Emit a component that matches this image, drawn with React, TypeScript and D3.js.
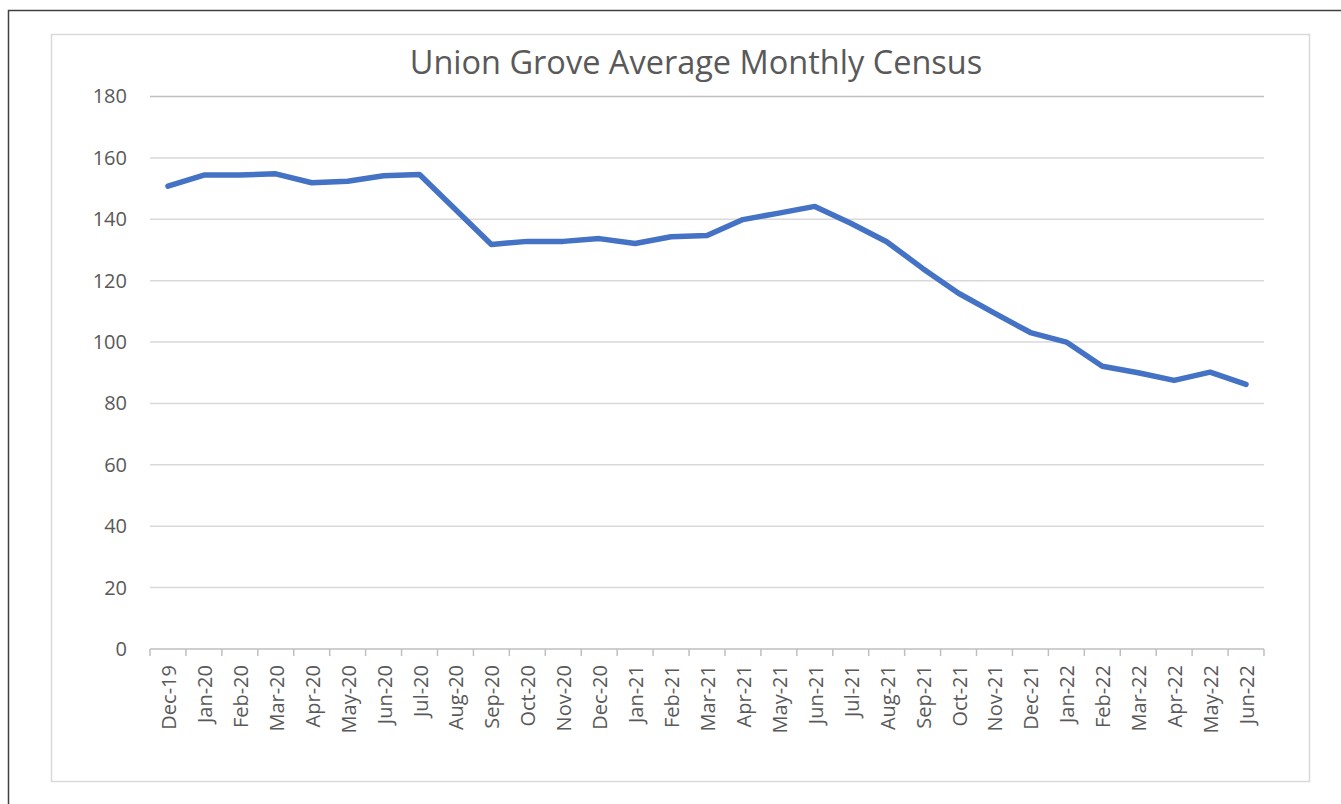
import React, { useEffect, useRef } from "react";
import { select, scaleBand, scaleLinear, axisLeft, axisBottom, line } from "d3";

const months = [
  "Dec-19", "Jan-20", "Feb-20", "Mar-20", "Apr-20", "May-20", "Jun-20", "Jul-20",
  "Aug-20", "Sep-20", "Oct-20", "Nov-20", "Dec-20", "Jan-21", "Feb-21", "Mar-21",
  "Apr-21", "May-21", "Jun-21", "Jul-21", "Aug-21", "Sep-21", "Oct-21", "Nov-21",
  "Dec-21", "Jan-22", "Feb-22", "Mar-22", "Apr-22", "May-22", "Jun-22",
];

const census = [
  150.8, 154.4, 154.4, 154.8, 151.9, 152.4, 154.2, 154.6,
  143.2, 131.8, 132.8, 132.8, 133.7, 132.1, 134.3, 134.7,
  139.9, 142.0, 144.2, 138.7, 132.7, 124.0, 115.9, 109.4,
  103.1, 100.0, 92.1, 90.0, 87.5, 90.2, 86.2,
];

const yTicks = [0, 20, 40, 60, 80, 100, 120, 140, 160, 180];

const FONT = "'Open Sans', sans-serif";

const App = () => {
  const svgRef = useRef<SVGSVGElement>(null);

  useEffect(() => {
    const svg = select(svgRef.current);
    svg.selectAll("*").remove();

    // frames
    svg.append("rect")
      .attr("x", 8.5).attr("y", 10.5)
      .attr("width", 1340).attr("height", 800)
      .attr("fill", "none").attr("stroke", "#404040").attr("stroke-width", 1.5);

    svg.append("rect")
      .attr("x", 51.5).attr("y", 34.5)
      .attr("width", 1258).attr("height", 747)
      .attr("fill", "#fff").attr("stroke", "#d9d9d9").attr("stroke-width", 1.5);

    // scales
    const x = scaleBand().domain(months).range([150, 1264]).padding(0);
    const y = scaleLinear().domain([0, 180]).range([649, 96.5]);

    // gridlines
    svg.append("g")
      .selectAll("line")
      .data(yTicks.filter((d) => d > 0))
      .join("line")
      .attr("x1", 150).attr("x2", 1264)
      .attr("y1", (d) => y(d)).attr("y2", (d) => y(d))
      .attr("stroke", (d) => (d === 180 ? "#bfbfbf" : "#d9d9d9"))
      .attr("stroke-width", 1.5);

    // y axis
    const yAxis = svg.append("g")
      .attr("transform", "translate(127,0)")
      .call(axisLeft(y).tickValues(yTicks).tickSize(0).tickPadding(0));
    yAxis.select(".domain").remove();
    yAxis.selectAll("text")
      .attr("font-family", FONT).attr("font-size", 20).attr("fill", "#595959");

    // x axis
    const xAxis = svg.append("g")
      .attr("transform", `translate(0,${y(0)})`)
      .call(axisBottom(x).tickSize(0));
    xAxis.select(".domain").remove();
    xAxis.selectAll("text")
      .attr("font-family", FONT).attr("font-size", 20).attr("fill", "#595959")
      .attr("transform", "rotate(-90)")
      .attr("text-anchor", "end")
      .attr("x", -16).attr("y", 1).attr("dy", "0.35em");

    const boundaries = [...months.map((m) => x(m) as number), 1264];
    svg.append("g")
      .selectAll("line")
      .data(boundaries)
      .join("line")
      .attr("x1", (d) => d).attr("x2", (d) => d)
      .attr("y1", y(0)).attr("y2", y(0) + 7)
      .attr("stroke", "#bfbfbf").attr("stroke-width", 1.5);
    svg.append("line")
      .attr("x1", 150).attr("x2", 1264)
      .attr("y1", y(0)).attr("y2", y(0))
      .attr("stroke", "#bfbfbf").attr("stroke-width", 1.5);

    // series
    const path = line<number>()
      .x((_, i) => (x(months[i]) as number) + x.bandwidth() / 2)
      .y((d) => y(d));
    svg.append("path")
      .datum(census)
      .attr("d", path)
      .attr("fill", "none")
      .attr("stroke", "#4472c4")
      .attr("stroke-width", 5.5)
      .attr("stroke-linejoin", "round")
      .attr("stroke-linecap", "round");

    // title
    svg.append("text")
      .attr("x", 696).attr("y", 74)
      .attr("text-anchor", "middle")
      .attr("font-family", FONT).attr("font-size", 32.5).attr("fill", "#595959")
      .text("Union Grove Average Monthly Census");
  }, []);

  return (
    <svg
      ref={svgRef}
      width={1341}
      height={804}
      style={{ position: "absolute", left: 0, top: 0, background: "#fff" }}
    />
  );
};

export default App;
